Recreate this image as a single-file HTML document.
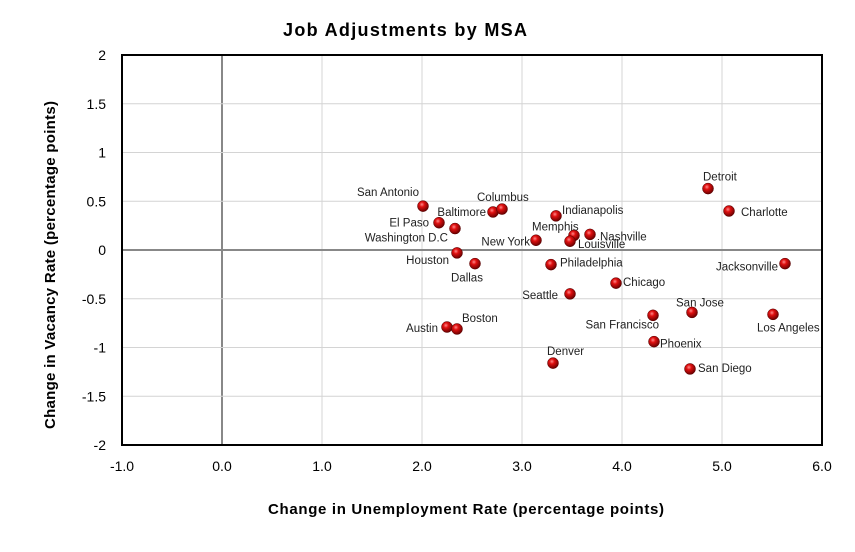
<!DOCTYPE html>
<html><head><meta charset="utf-8"><style>
body{margin:0;background:#fff;font-family:"Liberation Sans",sans-serif}
svg text{font-family:"Liberation Sans",sans-serif}
</style></head><body>
<svg id="chart" width="855" height="547" viewBox="0 0 855 547" xmlns="http://www.w3.org/2000/svg">
<defs><radialGradient id="ball" cx="40%" cy="35%" r="65%"><stop offset="0" stop-color="#ff8a8a"/><stop offset="0.35" stop-color="#e01010"/><stop offset="1" stop-color="#6a0000"/></radialGradient></defs>
<rect width="855" height="547" fill="#fff"/>
<text x="405" y="36" text-anchor="middle" font-size="18" font-weight="bold" textLength="244" lengthAdjust="spacing">Job Adjustments by MSA</text>
<g id="grid"></g>
<g id="pts"></g>
<text x="466" y="514" text-anchor="middle" font-size="15" font-weight="bold" textLength="396" lengthAdjust="spacing">Change in Unemployment Rate (percentage points)</text>
<text transform="translate(55,265) rotate(-90)" text-anchor="middle" font-size="15" font-weight="bold" textLength="328" lengthAdjust="spacing">Change in Vacancy Rate (percentage points)</text>
</svg>
<script>
const cities=["San Antonio","El Paso","Washington D.C","Baltimore","Columbus","Houston","Dallas","Austin","Boston","Indianapolis","New York","Memphis","Louisville","Nashville","Philadelphia","Seattle","Chicago","Denver","San Francisco","Phoenix","San Jose","San Diego","Detroit","Charlotte","Jacksonville","Los Angeles"];
const unempChange=[2.01,2.17,2.33,2.71,2.80,2.35,2.53,2.25,2.35,3.34,3.14,3.52,3.48,3.68,3.29,3.48,3.94,3.31,4.31,4.32,4.70,4.68,4.86,5.07,5.63,5.51];
const vacancyChange=[0.45,0.28,0.22,0.39,0.42,-0.03,-0.14,-0.79,-0.81,0.35,0.10,0.15,0.09,0.16,-0.15,-0.45,-0.34,-1.16,-0.67,-0.94,-0.64,-1.22,0.63,0.40,-0.14,-0.66];
const xTicks=[-1,0,1,2,3,4,5,6];
const yTicks=[2,1.5,1,0.5,0,-0.5,-1,-1.5,-2];
const labelOffsets=[[-4,-10,"end"],[-10,4,"end"],[-7,13,"end"],[-7,4,"end"],[-25,-8,"start"],[-8,11,"end"],[-24,18,"start"],[-9,5,"end"],[5,-7,"start"],[6,-2,"start"],[-6,5,"end"],[-42,-5,"start"],[8,7,"start"],[10,6,"start"],[9,2,"start"],[-12,5,"end"],[7,3,"start"],[-6,-8,"start"],[6,13,"end"],[6,6,"start"],[-16,-6,"start"],[8,3,"start"],[-5,-8,"start"],[12,5,"start"],[-7,7,"end"],[-16,17,"start"]];
const NS="http://www.w3.org/2000/svg";
const X0=122,X1=822,Y0=55,Y1=445;
const sx=v=>X0+(v+1)/7*(X1-X0);
const sy=v=>Y0+(2-v)/4*(Y1-Y0);
function mk(tag,attrs,parent){const e=document.createElementNS(NS,tag);for(const k in attrs)e.setAttribute(k,attrs[k]);parent.appendChild(e);return e;}
const grid=document.getElementById('grid'),pts=document.getElementById('pts');
xTicks.forEach(t=>{
 const g=mk('line',{x1:sx(t),x2:sx(t),y1:Y0,y2:Y1,stroke:t===0?'#888':'#d4d4d4','stroke-width':t===0?2:1},grid);
 
 
 const l=mk('text',{x:sx(t),y:Y1+26,'text-anchor':'middle','font-size':14},grid);l.textContent=t.toFixed(1);
 
 
});
yTicks.forEach(t=>{
 const g=mk('line',{x1:X0,x2:X1,y1:sy(t),y2:sy(t),stroke:t===0?'#888':'#d4d4d4','stroke-width':t===0?2:1},grid);
 
 
 const l=mk('text',{x:X0-16,y:sy(t)+5,'text-anchor':'end','font-size':14},grid);l.textContent=String(t);
 
 
});
const fr=mk('rect',{x:X0,y:Y0,width:X1-X0,height:Y1-Y0,fill:'none',stroke:'#000','stroke-width':2},grid);


cities.forEach((c,i)=>{
 const px=sx(unempChange[i]),py=sy(vacancyChange[i]);
 const p=mk('circle',{cx:px,cy:py,r:5.5,fill:'url(#ball)',stroke:'#500','stroke-width':0.5},pts);
 
 
 const o=labelOffsets[i];
 const t=mk('text',{x:px+o[0],y:py+o[1],'text-anchor':o[2],'font-size':11.5,fill:'#222'},pts);t.textContent=c;
 
 
});
</script>
</body></html>
